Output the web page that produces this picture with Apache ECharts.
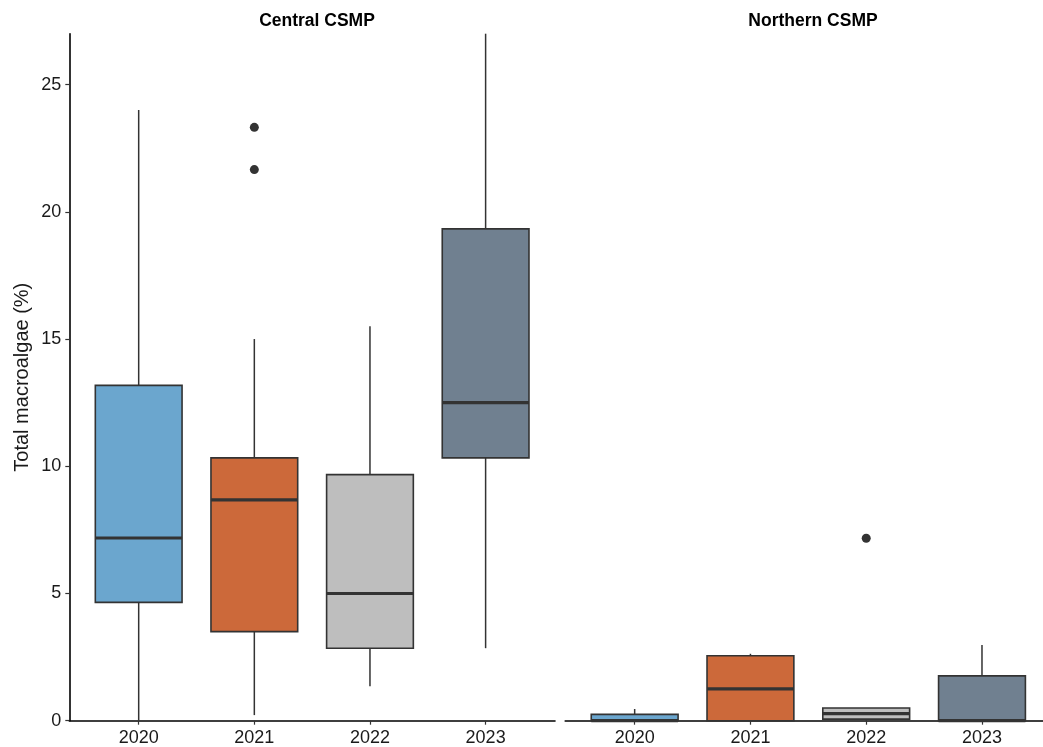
<!DOCTYPE html>
<html>
<head>
<meta charset="utf-8">
<script src="https://cdn.jsdelivr.net/npm/echarts@6/dist/echarts.min.js"></script>
<style>
  html, body { margin: 0; padding: 0; background: #ffffff; }
  #chart { width: 1043px; height: 747px; }
</style>
</head>
<body>
<div id="chart"></div>
<script>
// Survey years shared by both regions
const years = ['2020', '2021', '2022', '2023'];
const regions = ['Central CSMP', 'Northern CSMP'];

// Box summaries per year: [lower whisker, Q1, median, Q3, upper whisker]
const centralStats = [
  [0.0, 4.65, 7.18, 13.18, 24.0],
  [0.22, 3.5, 8.68, 10.33, 15.0],
  [1.35, 2.85, 5.0, 9.67, 15.5],
  [2.85, 10.33, 12.5, 19.33, 27.0]
];
const northernStats = [
  [0.0, 0.0, 0.0, 0.25, 0.46],
  [0.0, 0.0, 1.25, 2.55, 2.63],
  [0.0, 0.06, 0.28, 0.5, 0.5],
  [0.0, 0.0, 0.0, 1.76, 2.98]
];

// Outlying observations: [year, value]
const centralOutliers = [['2021', 23.32], ['2021', 21.66]];
const northernOutliers = [['2022', 7.17]];

// Fill colour for each year
const yearColors = ['#6ba6ce', '#cc693a', '#bebebe', '#708090'];

const yTicks = [0, 5, 10, 15, 20, 25];

const textColor = '#1a1a1a';
const fontFamily = '"Liberation Sans", Arial, Helvetica, sans-serif';

function boxData(stats) {
  return stats.map((s, i) => [i + 1].concat(s));
}
function outlierData(list) {
  return list.map(o => [years.indexOf(o[0]) + 1, o[1]]);
}

// Draws one ggplot-style box with whiskers and a heavy median bar
function renderBox(params, api) {
  const x = api.value(0);
  const low = api.value(1), q1 = api.value(2), med = api.value(3),
        q3 = api.value(4), high = api.value(5);
  const half = api.size([0.75, 0])[0] / 2;
  const pLow = api.coord([x, low]);
  const pQ1 = api.coord([x, q1]);
  const pMed = api.coord([x, med]);
  const pQ3 = api.coord([x, q3]);
  const pHigh = api.coord([x, high]);
  const cx = pMed[0];
  const stroke = '#333333';
  const children = [];
  if (high > q3) {
    children.push({ type: 'line', shape: { x1: cx, y1: pQ3[1], x2: cx, y2: pHigh[1] },
      style: { stroke: stroke, lineWidth: 1.5 } });
  }
  if (low < q1) {
    children.push({ type: 'line', shape: { x1: cx, y1: pQ1[1], x2: cx, y2: pLow[1] },
      style: { stroke: stroke, lineWidth: 1.5 } });
  }
  children.push({ type: 'rect',
    shape: { x: cx - half, y: pQ3[1], width: half * 2, height: pQ1[1] - pQ3[1] },
    style: { fill: yearColors[x - 1], stroke: stroke, lineWidth: 1.6 } });
  children.push({ type: 'line', shape: { x1: cx - half, y1: pMed[1], x2: cx + half, y2: pMed[1] },
    style: { stroke: stroke, lineWidth: 3.2 } });
  return { type: 'group', children: children };
}

function xAxisFor(gridIndex, maxVal) {
  return {
    type: 'value', gridIndex: gridIndex, min: 0.4, max: maxVal,
    splitLine: { show: false },
    axisLine: { show: true, onZero: false, lineStyle: { color: '#000000', width: 1.6 } },
    axisTick: { show: true, customValues: [1, 2, 3, 4], length: 4, lineStyle: { color: '#333333', width: 1.2 } },
    axisLabel: {
      customValues: [1, 2, 3, 4], margin: 8,
      formatter: v => years[Math.round(v) - 1] || '',
      color: textColor, fontSize: 18, fontFamily: fontFamily
    }
  };
}

function yAxisFor(gridIndex, visible) {
  return {
    type: 'value', gridIndex: gridIndex, min: 0, max: 27,
    splitLine: { show: false },
    axisLine: { show: visible, lineStyle: { color: '#000000', width: 1.6 } },
    axisTick: { show: visible, customValues: yTicks, length: 4, lineStyle: { color: '#333333', width: 1.2 } },
    axisLabel: {
      show: visible, customValues: yTicks, margin: 8,
      color: textColor, fontSize: 18, fontFamily: fontFamily
    },
    name: visible ? 'Total macroalgae (%)' : '',
    nameLocation: 'middle', nameGap: 37,
    nameTextStyle: { color: textColor, fontSize: 20, fontFamily: fontFamily }
  };
}

const chart = echarts.init(document.getElementById('chart'), null, { renderer: 'canvas' });

chart.setOption({
  backgroundColor: '#ffffff',
  animation: false,
  title: [
    { text: regions[0], left: 312, top: 7, textAlign: 'center',
      textStyle: { fontSize: 17.5, fontWeight: 'bold', color: '#000000', fontFamily: fontFamily } },
    { text: regions[1], left: 808, top: 7, textAlign: 'center',
      textStyle: { fontSize: 17.5, fontWeight: 'bold', color: '#000000', fontFamily: fontFamily } }
  ],
  grid: [
    { left: 69.3, right: 488, top: 33.7, bottom: 26.3 },
    { left: 565.2, right: 0, top: 33.7, bottom: 26.3 }
  ],
  xAxis: [xAxisFor(0, 4.6), xAxisFor(1, 4.527)],
  yAxis: [yAxisFor(0, true), yAxisFor(1, false)],
  series: [
    { type: 'custom', name: regions[0], xAxisIndex: 0, yAxisIndex: 0,
      renderItem: renderBox, data: boxData(centralStats), clip: false,
      encode: { x: 0, y: [1, 2, 3, 4, 5] } },
    { type: 'custom', name: regions[1], xAxisIndex: 1, yAxisIndex: 1,
      renderItem: renderBox, data: boxData(northernStats), clip: false,
      encode: { x: 0, y: [1, 2, 3, 4, 5] } },
    { type: 'scatter', xAxisIndex: 0, yAxisIndex: 0, data: outlierData(centralOutliers),
      symbolSize: 9, itemStyle: { color: '#333333', opacity: 1 } },
    { type: 'scatter', xAxisIndex: 1, yAxisIndex: 1, data: outlierData(northernOutliers),
      symbolSize: 9, itemStyle: { color: '#333333', opacity: 1 } }
  ]
});
</script>
</body>
</html>
